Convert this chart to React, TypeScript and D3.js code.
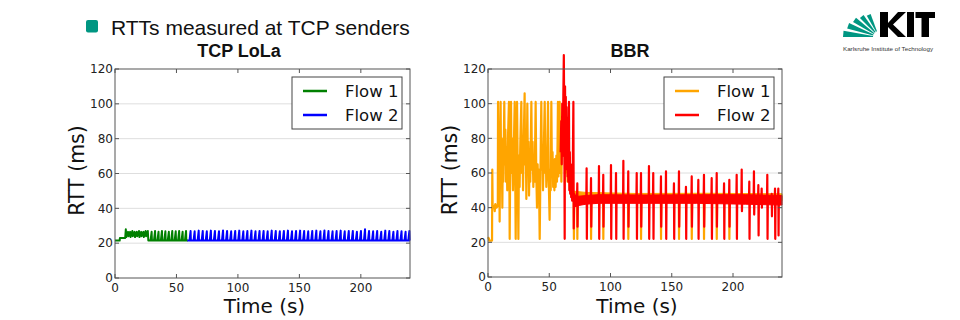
import React from 'react';
import * as d3 from 'd3';

type P = [number, number];

// ---------- shared ticks ----------
const timeTicks = [0, 50, 100, 150, 200];
const rttTicks = [0, 20, 40, 60, 80, 100, 120];
const gridTicks = [20, 40, 60, 80, 100];

// ---------- TCP LoLa ----------
const lolaBase = 21.5;
const lolaFlow1Head: P[] = [
  [0, 21.5], [3.8, 21.5], [4, 23], [8.3, 23], [8.8, 28], [9.2, 23.5], [10.6, 26.5], [11, 24],
  [12.3, 26.5], [12.7, 23.5], [14.1, 27], [14.5, 24], [15.9, 26.5], [16.3, 23.5], [17.7, 26.5],
  [18.1, 24], [19.5, 27], [19.9, 23.5], [21.3, 26.5], [21.7, 24], [23.1, 26.5], [23.5, 23.5],
  [24.9, 27], [25.3, 24], [26.7, 27], [27.1, 21.5],
];
const lolaFlow1ToothTimes = [29.8, 32.6, 35.4, 38.2, 41.0, 43.8, 46.6, 49.4, 52.2, 55.0, 57.8];
const lolaFlow1ToothPeaks = [26.5, 27, 26.5, 27, 26.8, 26.5, 27, 26.8, 27, 26.5, 27];
const lolaFlow2ToothTimes = [
  61.5, 64.8, 68.1, 71.4, 74.7, 78.0, 81.3, 84.6, 87.9, 91.2, 94.5, 97.8, 101.1, 104.4, 107.7,
  111.0, 114.3, 117.6, 120.9, 124.2, 127.5, 130.8, 134.1, 137.4, 140.7, 144.0, 147.3, 150.6,
  153.9, 157.2, 160.5, 163.8, 167.1, 170.4, 173.7, 177.0, 180.3, 183.6, 186.9, 190.2, 193.5,
  196.8, 200.1, 203.4, 206.7, 210.0, 213.3, 216.6, 219.9, 223.2, 226.5, 229.8, 233.1, 236.4, 239.5,
];
const lolaFlow2ToothPeaks = [
  27, 26.8, 27.2, 27, 26.8, 27.2, 27, 26.8, 27.3, 27, 26.8, 27, 27.2, 26.8, 27, 27.2, 26.8, 27,
  27, 26.8, 27.2, 27, 26.8, 27, 27.2, 26.8, 27, 27.2, 27, 26.8, 27, 27.2, 26.8, 27.3, 27, 26.8,
  27, 27.2, 26.8, 27, 27, 26.5, 27, 28, 27, 26.8, 27, 26.5, 27.2, 27, 26.5, 27, 26.8, 26.5, 27,
];

// ---------- BBR ----------
const bbrFlow1Points: P[] = [
  [0, 23], [0.8, 22], [1, 21], [3.3, 21], [3.5, 62], [3.8, 40], [5, 41], [5.5, 38], [6, 42],
  [7, 40], [8, 41], [8.2, 101], [8.6, 70], [9, 85], [9.5, 32], [9.9, 70], [10.3, 101], [10.7, 60],
  [11.1, 80], [11.7, 40], [12.1, 75], [12.5, 55], [13.3, 101], [13.7, 65], [14.2, 85], [14.7, 55],
  [15.2, 75], [15.7, 50], [16.3, 80], [17.1, 101], [17.7, 22], [18.2, 70], [18.8, 101], [19.2, 60],
  [19.7, 80], [20.4, 50], [21, 72], [21.8, 101], [22.6, 22], [23.2, 75], [23.7, 101], [24.2, 65],
  [24.8, 22], [25.3, 70], [25.8, 52], [26.4, 78], [27.2, 101], [27.7, 60], [28.2, 78], [28.6, 50],
  [29.2, 80], [29.9, 106], [30.3, 65], [30.8, 80], [31.3, 45], [31.7, 70], [32.1, 100], [32.6, 62],
  [33, 78], [33.5, 47], [34, 70], [34.5, 55], [35.4, 101], [35.9, 62], [36.4, 78], [37, 52],
  [37.5, 70], [38.1, 55], [38.9, 101], [39.4, 60], [40, 40], [40.5, 65], [41, 50], [41.5, 62],
  [42.2, 22], [42.8, 60], [43.5, 101], [44, 62], [44.5, 75], [44.9, 50], [45.4, 68], [46.3, 101],
  [46.8, 60], [47.2, 72], [47.6, 52], [48.2, 65], [49, 101], [49.5, 58], [50.3, 33], [50.8, 62],
  [51.2, 50], [51.7, 101], [52.2, 60], [52.7, 72], [53.2, 52], [53.6, 65], [54.2, 50], [54.6, 68],
  [55.2, 52], [55.8, 70], [56.3, 55], [56.8, 78], [57.1, 101], [57.5, 58], [57.9, 75], [58.5, 101],
  [59, 60], [59.5, 72], [59.9, 55], [60.5, 85], [61.2, 70], [62, 95], [63, 60], [64, 80],
  [65, 55], [66, 65], [67, 50], [68.5, 49], [70, 48.5],
];
const bbrFlow1Band: [number, number, number][] = [
  [70, 43, 49.5], [80, 43.5, 48.8], [120, 44, 48.2], [180, 44, 48.3], [240, 44, 48],
];
const bbrFlow1DropTimes = [70.1, 72.9, 84.1, 94.1, 114.5, 124.9, 141.2, 155.9, 166.3, 176.3, 186.7, 197.0];
const bbrFlow1DropValue = 22;

const bbrFlow2Points: P[] = [
  [59.3, 72], [59.8, 90], [60.2, 65], [60.6, 100], [61, 70], [61.5, 105], [61.9, 128], [62.3, 85],
  [62.6, 22], [62.9, 110], [63.2, 68], [63.5, 104], [63.8, 64], [64.1, 98], [64.4, 62], [64.7, 92],
  [65, 58], [65.3, 85], [65.6, 55], [66.1, 101], [66.4, 50], [66.8, 72], [67.1, 48], [67.5, 65],
  [67.9, 46], [68.3, 58], [68.7, 44], [69.1, 55], [69.7, 101], [70, 28], [70.4, 48], [70.8, 42],
  [71.3, 47], [71.8, 41], [72.3, 46],
];
const bbrFlow2Band: [number, number, number][] = [
  [72, 41, 46.5], [80, 42, 47], [90, 42.5, 47.5], [130, 42.5, 47.3], [170, 42.5, 47.5],
  [210, 42, 47.5], [240, 41.5, 47],
];
const bbrFlow2SpikeTimes = [
  72.9, 80.5, 84.1, 90.6, 94.1, 100.4, 104.5, 110.5, 114.5, 121.4, 124.9, 131.4, 134.9, 141.2,
  145.3, 151.8, 155.9, 161.6, 166.3, 171.7, 176.3, 182.6, 186.7, 192.7, 197.0, 203.0, 207.1,
  213.3, 217.1, 220.7, 223.4, 228.0, 231.6, 234.3, 237.0,
];
const bbrFlow2SpikePeaks = [
  54, 62.7, 57, 64, 59, 64.6, 60, 67, 61, 60, 60, 64, 60, 58, 61, 54, 61, 52, 58, 56, 59, 57,
  60, 54, 56, 59, 62, 55, 61, 53, 51, 59, 48, 51, 51,
];
const bbrFlow2SpikeTroughs = [
  29, 22, 29, 22, 29, 22, 22, 22, 29, 22, 29, 22, 22, 29, 22, 22, 29, 22, 29, 22, 29, 22, 29,
  22, 29, 22, 38, 22, 36, 24, 40, 22, 35, 22, 24,
];

const legendLabels = ['Flow 1', 'Flow 2'];
const lolaColors = ['#008000', '#0000ff'];
const bbrColors = ['#ffa500', '#ff0000'];

// ---------- helpers ----------
function comb(times: number[], peaks: number[], base: number): P[] {
  const out: P[] = [];
  const n = Math.min(times.length, peaks.length);
  for (let i = 0; i < n; i++) {
    out.push([times[i] - 0.9, base], [times[i], peaks[i]], [times[i] + 0.25, base]);
  }
  return out;
}

const FONT = "'DejaVu Sans', sans-serif";
const ARIAL = "'Liberation Sans', Arial, sans-serif";

function Grid({ x, y }: { x: any; y: any }) {
  const [x0, x1] = x.range();
  return (
    <g>
      {gridTicks.map((t) => (
        <line key={t} x1={x0} x2={x1} y1={y(t)} y2={y(t)} stroke="#dedede" strokeWidth={1} />
      ))}
    </g>
  );
}

function Frame({ x, y }: { x: any; y: any }) {
  const [x0, x1] = x.range();
  const [yb, yt] = y.range();
  return (
    <g>
      <rect x={x0} y={yt} width={x1 - x0} height={yb - yt} fill="none" stroke="#555" strokeWidth={1} />
      {timeTicks.map((t) => (
        <g key={'xt' + t}>
          <line x1={x(t)} x2={x(t)} y1={yb} y2={yb - 4} stroke="#555" />
          <line x1={x(t)} x2={x(t)} y1={yt} y2={yt + 4} stroke="#555" />
          <text x={x(t)} y={yb + 14} textAnchor="middle" fontFamily={FONT} fontSize={12} fill="#222">{t}</text>
        </g>
      ))}
      {rttTicks.map((t) => (
        <g key={'yt' + t}>
          <line x1={x0} x2={x0 + 4} y1={y(t)} y2={y(t)} stroke="#555" />
          <line x1={x1} x2={x1 - 4} y1={y(t)} y2={y(t)} stroke="#555" />
          <text x={x0 - 2} y={y(t) + 4.3} textAnchor="end" fontFamily={FONT} fontSize={12} fill="#222">{t}</text>
        </g>
      ))}
      <text x={(x0 + x1) / 2 + 2} y={312.5} textAnchor="middle" fontFamily={FONT} fontSize={20} fill="#111">Time (s)</text>
      <text transform={`translate(${x0 - 31},${(yb + yt) / 2 - 3}) rotate(-90)`} textAnchor="middle"
        fontFamily={FONT} fontSize={20.5} fill="#111">RTT (ms)</text>
    </g>
  );
}

function Legend({ bx, colors }: { bx: number; colors: string[] }) {
  return (
    <g>
      <rect x={bx} y={77} width={110} height={52} fill="#fff" stroke="#444" strokeWidth={1} />
      {legendLabels.map((l, i) => (
        <g key={l}>
          <line x1={bx + 11} x2={bx + 35} y1={91 + i * 24} y2={91 + i * 24} stroke={colors[i]} strokeWidth={2.5} />
          <text x={bx + 53} y={97 + i * 23.5} fontFamily={FONT} fontSize={16.5} fill="#111">{l}</text>
        </g>
      ))}
    </g>
  );
}

function KitLogo() {
  const ox = 879, oy = 37;
  const wedges = [[0, 10, 36], [15, 25, 33], [30, 40, 30], [45, 55, 27], [60, 70, 24.5]];
  const rIn = 6;
  const pt = (a: number, r: number) => {
    const rad = (a * Math.PI) / 180;
    return [ox - r * Math.cos(rad), oy - r * Math.sin(rad)];
  };
  return (
    <g>
      {wedges.map(([a0, a1, r], i) => {
        const p = [pt(a0, rIn), pt(a0, r), pt(a1, r), pt(a1, rIn)];
        return <polygon key={i} points={p.map((q) => q.join(',')).join(' ')} fill="#009682" />;
      })}
      <rect x={880} y={12} width={8} height={25} fill="#000" />
      <polygon points="888,23 898,12 906,12 893,24.5 906,37 898,37 888,27" fill="#000" />
      <rect x={907} y={12} width={7} height={25} fill="#000" />
      <rect x={915.5} y={12} width={19.5} height={6} fill="#000" />
      <rect x={921.5} y={12} width={7.5} height={25} fill="#000" />
      <text x={843} y={51} fontFamily={ARIAL} fontSize={6} fill="#333"
        textLength={90} lengthAdjust="spacingAndGlyphs">Karlsruhe Institute of Technology</text>
    </g>
  );
}

export default function App() {
  const xL = d3.scaleLinear().domain([0, 240]).range([115, 410]);
  const yL = d3.scaleLinear().domain([0, 120]).range([278, 69]);
  const xR = d3.scaleLinear().domain([0, 240]).range([488, 782]);
  const yR = d3.scaleLinear().domain([0, 120]).range([277, 69]);

  const lineL = d3.line<P>().x((d) => xL(d[0])).y((d) => yL(d[1]));
  const lineR = d3.line<P>().x((d) => xR(d[0])).y((d) => yR(d[1]));
  const bandR = d3.area<[number, number, number]>()
    .x((d) => xR(d[0])).y0((d) => yR(d[1])).y1((d) => yR(d[2]));

  const lolaF1: P[] = [
    ...lolaFlow1Head,
    ...comb(lolaFlow1ToothTimes, lolaFlow1ToothPeaks, lolaBase),
    [59.3, lolaBase],
  ];
  const lolaF2: P[] = [
    [58.8, lolaBase],
    ...comb(lolaFlow2ToothTimes, lolaFlow2ToothPeaks, lolaBase),
    [240, lolaBase],
  ];

  const redSpikes = bbrFlow2SpikeTimes.map((t, i): P[] => [
    [t - 0.25, 45], [t, bbrFlow2SpikePeaks[i]], [t + 0.2, bbrFlow2SpikeTroughs[i]], [t + 0.45, 45],
  ]);
  const orangeDrops = bbrFlow1DropTimes.map((t): P[] => [[t - 0.2, 46], [t + 0.05, bbrFlow1DropValue], [t + 0.3, 46]]);

  return (
    <svg width={960} height={320} style={{ position: 'absolute', left: 0, top: 0, background: '#fff' }}>
      <rect x={0} y={0} width={960} height={320} fill="#fff" />
      {/* header */}
      <rect x={86} y={20} width={12} height={12.5} rx={2} fill="#009682" />
      <text x={111} y={34.5} fontFamily={ARIAL} fontSize={21} fill="#111">RTTs measured at TCP senders</text>
      <text x={239} y={57} textAnchor="middle" fontFamily={ARIAL} fontWeight="bold" fontSize={18} fill="#111">TCP LoLa</text>
      <text x={630} y={56.5} textAnchor="middle" fontFamily={ARIAL} fontWeight="bold" fontSize={18} fill="#111">BBR</text>
      <KitLogo />

      {/* LoLa panel */}
      <Grid x={xL} y={yL} />
      <path d={lineL(lolaF1) || ''} fill="none" stroke={lolaColors[0]} strokeWidth={2} strokeLinejoin="round" />
      <path d={lineL(lolaF2) || ''} fill="none" stroke={lolaColors[1]} strokeWidth={2} strokeLinejoin="round" />
      <Frame x={xL} y={yL} />
      <Legend bx={292} colors={lolaColors} />

      {/* BBR panel */}
      <Grid x={xR} y={yR} />
      <path d={lineR(bbrFlow1Points) || ''} fill="none" stroke={bbrColors[0]} strokeWidth={2.2} strokeLinejoin="round" />
      <path d={bandR(bbrFlow1Band) || ''} fill={bbrColors[0]} stroke={bbrColors[0]} strokeWidth={1} />
      {orangeDrops.map((d, i) => (
        <path key={'od' + i} d={lineR(d) || ''} fill="none" stroke={bbrColors[0]} strokeWidth={2.2} strokeLinejoin="round" />
      ))}
      <path d={lineR(bbrFlow2Points) || ''} fill="none" stroke={bbrColors[1]} strokeWidth={2.2} strokeLinejoin="round" />
      <path d={bandR(bbrFlow2Band) || ''} fill={bbrColors[1]} stroke={bbrColors[1]} strokeWidth={1} />
      {redSpikes.map((d, i) => (
        <path key={'rs' + i} d={lineR(d) || ''} fill="none" stroke={bbrColors[1]} strokeWidth={2.2} strokeLinejoin="round" />
      ))}
      <Frame x={xR} y={yR} />
      <Legend bx={664} colors={bbrColors} />
    </svg>
  );
}
